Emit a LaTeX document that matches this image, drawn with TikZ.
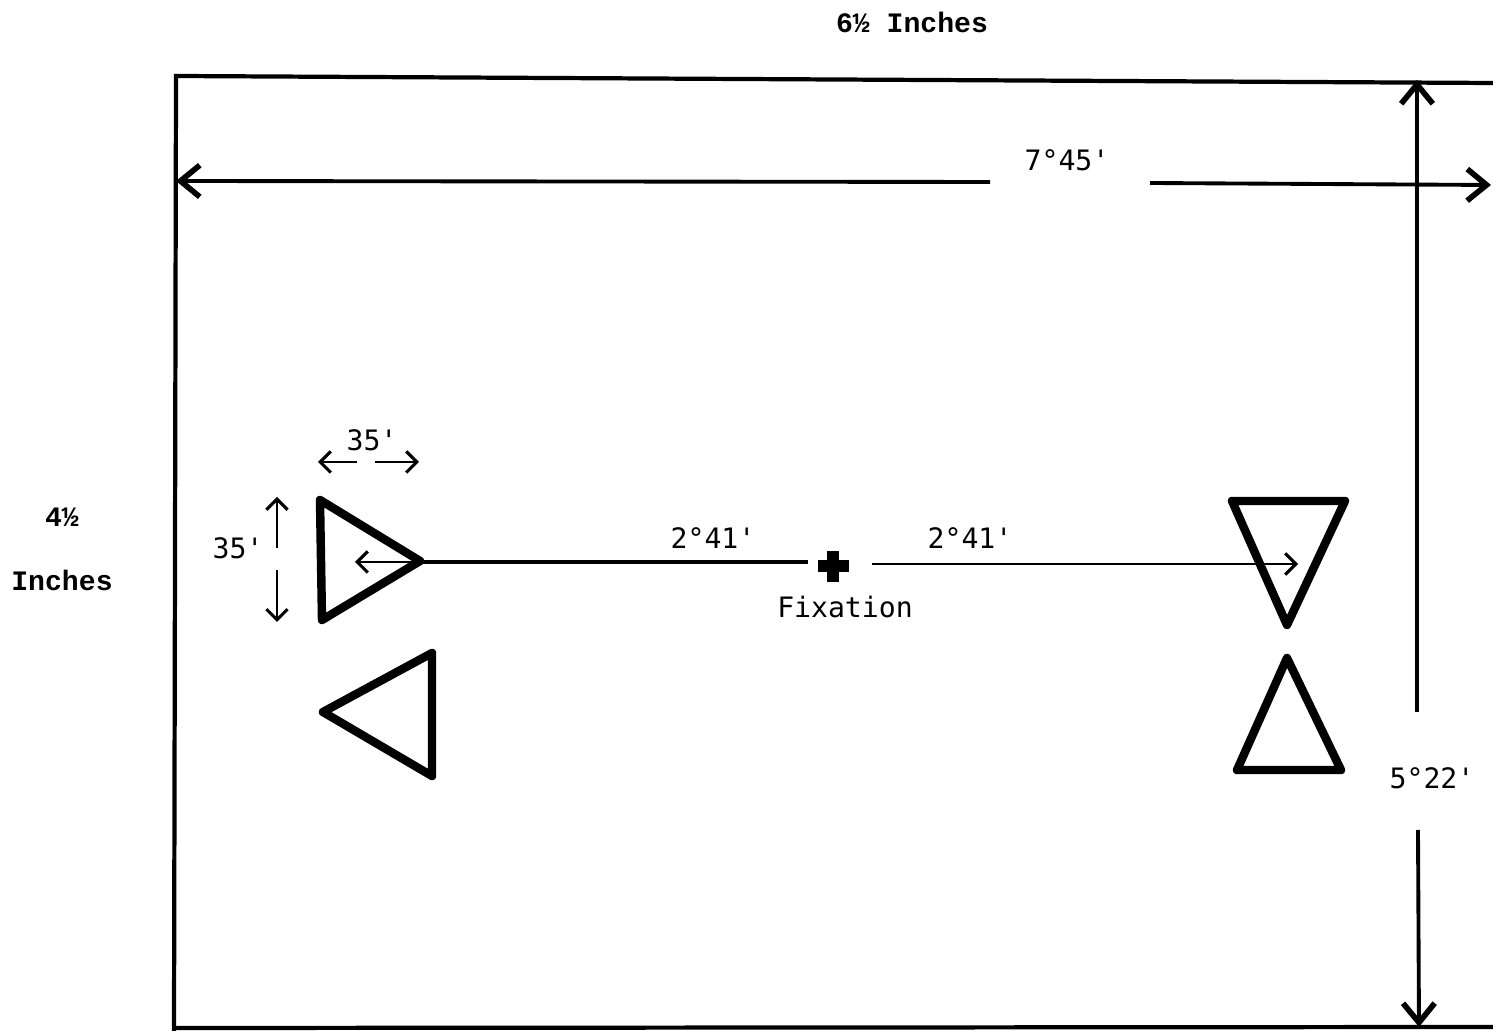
\documentclass[tikz,border=0pt]{standalone}
\usepackage{fontspec}
\setmonofont{DejaVu Sans Mono}
\newfontfamily\headfont{Liberation Mono}
\usetikzlibrary{arrows.meta}
\begin{document}
\begin{tikzpicture}[x=0.01cm,y=-0.01cm,
  lbl/.style={font=\fontsize{8}{9}\selectfont\ttfamily, inner sep=0pt},
  head/.style={font=\fontsize{8}{9}\selectfont\headfont\bfseries, inner sep=0pt},
  frame/.style={line width=1.2pt},
  big/.style={line width=1.1pt, -{Straight Barb[length=5.5pt,width=9pt,line width=1.6pt]}},
  small/.style={line width=0.8pt, -{Straight Barb[length=3pt,width=6pt,line width=0.9pt]}},
  tri/.style={line width=2.4pt, line join=round},
  ]
\useasboundingbox (0,0) rectangle (1493,1031);
% frame
\draw[frame] (1493,83) -- (176,76) -- (174,1031);
\draw[frame] (176,1028) -- (1493,1027);
% corner coordinates
\coordinate (hl) at (176,181);
\coordinate (hr) at (1491,185);
\coordinate (vt) at (1417,80);
\coordinate (vb) at (1419,1027);
% labels
\node[head] (w) at (912,22) {6½ Inches};
\node[head] (h1) at (62,517) {4½};
\node[head] (h2) at (62,580) {Inches};
\node[lbl] (a745) at (1067,160) {7°45'};
\node[lbl] (a522) at (1432,778) {5°22'};
% horizontal dimension
\coordinate (hg1) at (990,182);
\coordinate (hg2) at (1150,183);
\draw[big] (hg1) -- (hl);
\draw[big] (hg2) -- (hr);
% vertical dimension
\coordinate (vg1) at (1417,712);
\coordinate (vg2) at (1418,830);
\draw[big] (vg1) -- (vt);
\draw[big] (vg2) -- (vb);
% triangles
\draw[tri] (320,500) -- (420,561) -- (322,620) -- cycle;
\draw[tri] (432,653) -- (432,776) -- (323,712) -- cycle;
\draw[tri] (1232,501) -- (1345,501) -- (1287,625) -- cycle;
\draw[tri] (1287,658) -- (1341,770) -- (1237,770) -- cycle;
% fixation
\node[inner sep=0pt, minimum size=0pt] (fix) at (833,566) {};
\draw[line width=3.2pt] (818,566) -- (849,566) (833,551) -- (833,582);
\node[lbl] (fixl) at (845,607) {Fixation};
% center line
\coordinate (tipL) at (420,562);
\coordinate (lend) at (808,562);
\coordinate (rstart) at (872,564);
\coordinate (tipR) at (1298,564);
\draw[line width=0.9pt] (tipL) -- (lend);
\draw[small] (tipL) -- (355,562);
\draw[small] (rstart) -- (tipR);
\node[lbl] (d1) at (713,538) {2°41'};
\node[lbl] (d2) at (970,538) {2°41'};
% 35' horizontal
\node[lbl] (s1) at (372,440) {35'};
\coordinate (sa1) at (357,462);
\coordinate (sa2) at (375,462);
\draw[small] (sa1) -- (318,462);
\draw[small] (sa2) -- (419,462);
% 35' vertical
\node[lbl] (s2) at (238,548) {35'};
\coordinate (sv1) at (277,548);
\coordinate (sv2) at (277,570);
\draw[small] (sv1) -- (277,497);
\draw[small] (sv2) -- (277,622);
\end{tikzpicture}
\end{document}
